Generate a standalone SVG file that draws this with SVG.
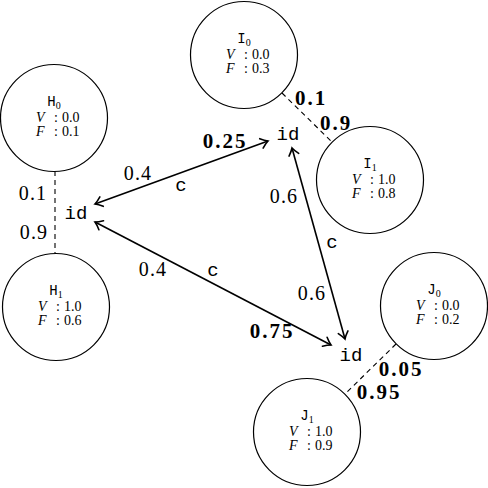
<svg xmlns="http://www.w3.org/2000/svg" width="488" height="488" viewBox="0 0 488 488">
<style>
  .node circle { fill: #fff; stroke: #000; stroke-width: 1.2; }
  .nm { font-family: "Liberation Mono", monospace; font-size: 14px; fill: #000; }
  .sub { font-family: "Liberation Serif", serif; font-size: 10px; }
  .val { font-family: "Liberation Serif", serif; font-size: 14px; fill: #000; }
  .it { font-style: italic; }
  .dash { stroke: #000; stroke-width: 1.1; stroke-dasharray: 5 4; fill: none; }
  .arr { stroke: #000; stroke-width: 1.6; fill: none; marker-start: url(#ah); marker-end: url(#ah); }
  .lab { font-family: "Liberation Serif", serif; font-size: 20px; fill: #000; text-anchor: middle; letter-spacing: 1.2px; }
  .bold { font-weight: bold; font-size: 21px; letter-spacing: 2px; }
  .tt { font-family: "Liberation Mono", monospace; font-size: 19px; fill: #000; text-anchor: middle; }
</style>
<defs>
  <marker id="ah" markerUnits="userSpaceOnUse" markerWidth="14" markerHeight="14" refX="0" refY="0" orient="auto-start-reverse" overflow="visible">
    <path d="M -7 -5 Q -3 -1.5 0 0 Q -3 1.5 -7 5" fill="none" stroke="#000" stroke-width="1.6" stroke-linecap="round"/>
  </marker>
</defs>

<g id="connectors">
  <line class="dash" x1="55" y1="171" x2="55" y2="253"/>
  <line class="dash" x1="282" y1="93" x2="332" y2="142"/>
  <line class="dash" x1="396" y1="344" x2="345" y2="394"/>
  <line class="arr" x1="95" y1="204" x2="268" y2="141"/>
  <line class="arr" x1="95" y1="222" x2="331" y2="345"/>
  <line class="arr" x1="292" y1="148" x2="345" y2="339"/>
  <text class="lab" x="33" y="200">0.1</text>
  <text class="lab" x="34" y="239">0.9</text>
  <text class="lab bold" x="311" y="105">0.1</text>
  <text class="lab bold" x="336" y="130">0.9</text>
  <text class="lab bold" x="401" y="376">0.05</text>
  <text class="lab bold" x="379" y="399">0.95</text>
  <text class="lab" x="138" y="180">0.4</text>
  <text class="tt" x="181" y="191">c</text>
  <text class="lab bold" x="225" y="148">0.25</text>
  <text class="lab" x="153" y="276">0.4</text>
  <text class="tt" x="213" y="276">c</text>
  <text class="lab bold" x="272" y="338">0.75</text>
  <text class="lab" x="284" y="203">0.6</text>
  <text class="tt" x="332" y="248">c</text>
  <text class="lab" x="312" y="300">0.6</text>
</g>

<g id="id_left"><text class="tt" x="76" y="219">id</text></g>
<g id="id_top"><text class="tt" x="288" y="140">id</text></g>
<g id="id_bottom"><text class="tt" x="351" y="361">id</text></g>

<g id="H0" class="node">
  <circle cx="54" cy="118" r="53.5"/>
  <text class="nm" x="54" y="106" text-anchor="middle">H<tspan class="sub" dy="3">0</tspan></text>
  <text class="val" y="122"><tspan class="it" x="36">V</tspan><tspan x="54">:</tspan><tspan x="62">0.0</tspan></text>
  <text class="val" y="136"><tspan class="it" x="36">F</tspan><tspan x="54">:</tspan><tspan x="62">0.1</tspan></text>
</g>
<g id="H1" class="node">
  <circle cx="56" cy="307" r="53.5"/>
  <text class="nm" x="56" y="295" text-anchor="middle">H<tspan class="sub" dy="3">1</tspan></text>
  <text class="val" y="311"><tspan class="it" x="38">V</tspan><tspan x="56">:</tspan><tspan x="64">1.0</tspan></text>
  <text class="val" y="325"><tspan class="it" x="38">F</tspan><tspan x="56">:</tspan><tspan x="64">0.6</tspan></text>
</g>
<g id="I0" class="node">
  <circle cx="244" cy="55" r="53.5"/>
  <text class="nm" x="244" y="43" text-anchor="middle">I<tspan class="sub" dy="3">0</tspan></text>
  <text class="val" y="59"><tspan class="it" x="226">V</tspan><tspan x="244">:</tspan><tspan x="252">0.0</tspan></text>
  <text class="val" y="73"><tspan class="it" x="226">F</tspan><tspan x="244">:</tspan><tspan x="252">0.3</tspan></text>
</g>
<g id="I1" class="node">
  <circle cx="370" cy="180" r="53.5"/>
  <text class="nm" x="370" y="168" text-anchor="middle">I<tspan class="sub" dy="3">1</tspan></text>
  <text class="val" y="184"><tspan class="it" x="352">V</tspan><tspan x="370">:</tspan><tspan x="378">1.0</tspan></text>
  <text class="val" y="198"><tspan class="it" x="352">F</tspan><tspan x="370">:</tspan><tspan x="378">0.8</tspan></text>
</g>
<g id="J0" class="node">
  <circle cx="434" cy="306" r="53.5"/>
  <text class="nm" x="434" y="294" text-anchor="middle">J<tspan class="sub" dy="3">0</tspan></text>
  <text class="val" y="310"><tspan class="it" x="416">V</tspan><tspan x="434">:</tspan><tspan x="442">0.0</tspan></text>
  <text class="val" y="324"><tspan class="it" x="416">F</tspan><tspan x="434">:</tspan><tspan x="442">0.2</tspan></text>
</g>
<g id="J1" class="node">
  <circle cx="307" cy="432" r="53.5"/>
  <text class="nm" x="307" y="420" text-anchor="middle">J<tspan class="sub" dy="3">1</tspan></text>
  <text class="val" y="436"><tspan class="it" x="289">V</tspan><tspan x="307">:</tspan><tspan x="315">1.0</tspan></text>
  <text class="val" y="450"><tspan class="it" x="289">F</tspan><tspan x="307">:</tspan><tspan x="315">0.9</tspan></text>
</g>
</svg>
